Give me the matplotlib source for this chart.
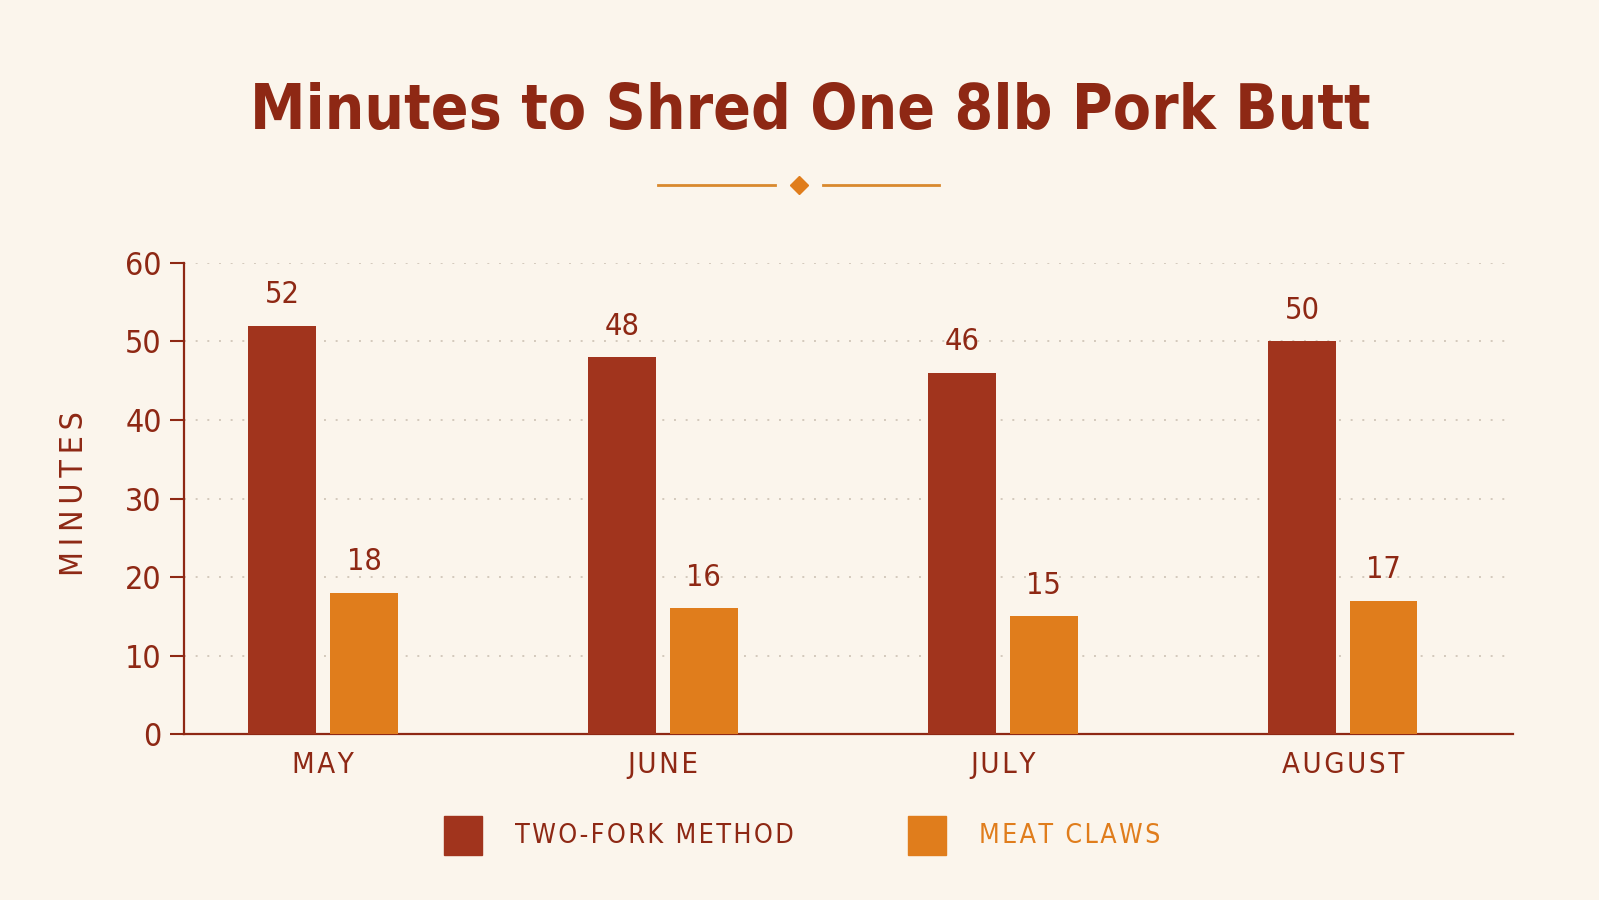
import numpy as np
import matplotlib.pyplot as plt
from matplotlib import font_manager
from matplotlib.lines import Line2D
from matplotlib.patches import Rectangle

# ----------------------
# Data
# ----------------------
months = ["MAY", "JUNE", "JULY", "AUGUST"]
two_fork = [52, 48, 46, 50]
meat_claws = [18, 16, 15, 17]
series_names = ["TWO-FORK METHOD", "MEAT CLAWS"]
y_ticks = [0, 10, 20, 30, 40, 50, 60]

# ----------------------
# Style
# ----------------------
BG = "#FBF5EC"
DARK = "#8E2814"
RED = "#A1341D"
ORANGE = "#E07D1C"
GRID = "#D3C9BC"


def pick_font():
    # prefer a narrow / condensed face if one is installed
    for f in font_manager.fontManager.ttflist:
        n = (f.name + " " + f.fname).lower()
        if "condensed" in n or "narrow" in n:
            return f.name, f.stretch
    return "Roboto", "normal"


NARROW, STRETCH = pick_font()
FONT = [NARROW, "DejaVu Sans"]
plt.rcParams["font.family"] = FONT
plt.rcParams["font.stretch"] = STRETCH


def spaced(s, sep="\u200a"):
    return sep.join(s)


fig = plt.figure(figsize=(15.99, 9.0), dpi=100, facecolor=BG)
ax = fig.add_axes([0.115, 0.1844, 0.831, 0.5234])
ax.set_facecolor(BG)

x = np.arange(len(months))
w = 0.2
off = 0.12
b1 = ax.bar(x - off, two_fork, width=w, color=RED, zorder=3)
b2 = ax.bar(x + off, meat_claws, width=w, color=ORANGE, zorder=3)

for bars, vals in ((b1, two_fork), (b2, meat_claws)):
    for rect, v in zip(bars, vals):
        ax.annotate(str(v), (rect.get_x() + rect.get_width() / 2, v),
                    xytext=(0, 12), textcoords="offset points",
                    ha="center", va="bottom", fontsize=22, color=DARK)

ax.set_xlim(-0.41, 3.5)
ax.set_ylim(0, 60)
ax.set_yticks(y_ticks)
ax.set_yticklabels([str(t) for t in y_ticks], fontsize=23, color=DARK)
ax.set_xticks(x)
ax.set_xticklabels([spaced(m) for m in months], fontsize=21, color=DARK)
ax.tick_params(axis="x", length=0, pad=12)
ax.tick_params(axis="y", length=10, width=1.5, color=DARK, pad=6)

for s in ("top", "right"):
    ax.spines[s].set_visible(False)
for s in ("left", "bottom"):
    ax.spines[s].set_color(DARK)
    ax.spines[s].set_linewidth(1.6)

for t in y_ticks[1:]:
    ax.axhline(t, color=GRID, lw=1.4, ls=(0, (1, 5)), zorder=1)

ax.set_ylabel(spaced("MINUTES", "\u2009"), fontsize=23, color=DARK)
ax.yaxis.set_label_coords(-0.071, 0.51)

# Title and ornament
title = fig.text(0.507, 0.876, "Minutes to Shred One 8lb Pork Butt", ha="center", va="center",
                 fontsize=64, fontweight="bold", color=DARK)
fig.add_artist(Line2D([658 / 1599, 775 / 1599], [1 - 185 / 900] * 2, color="#D9892E", lw=2))
fig.add_artist(Line2D([823 / 1599, 939 / 1599], [1 - 185 / 900] * 2, color="#D9892E", lw=2))
fig.add_artist(Line2D([799 / 1599], [1 - 185 / 900], marker="D", markersize=9,
                      color=ORANGE, lw=0))

# Legend
leg_texts = []
for sx, tx, name, col, tw in ((444, 515, series_names[0], RED, 279),
                              (908, 979, series_names[1], ORANGE, 181)):
    fig.add_artist(Rectangle((sx / 1599, 1 - 855 / 900), 38 / 1599, 39 / 900,
                             color=col, transform=fig.transFigure))
    t = fig.text(tx / 1599, 1 - 836 / 900, spaced(name), ha="left", va="center",
                 fontsize=21, color=DARK if col == RED else ORANGE)
    leg_texts.append((t, tw))

# shrink texts so their widths match the layout
renderer = fig.canvas.get_renderer()


def fit(t, target):
    width = t.get_window_extent(renderer).width
    if width > target:
        t.set_fontsize(t.get_fontsize() * target / width)


fit(title, 1122)
for t, tw in leg_texts:
    fit(t, tw)

fig.savefig("out.png", dpi=100, facecolor=BG)
